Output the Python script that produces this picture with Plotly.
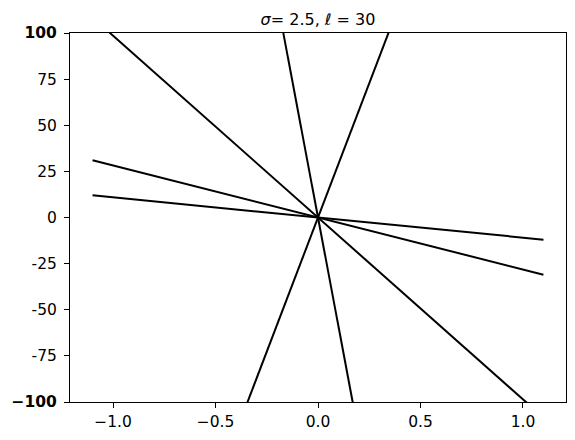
import plotly.graph_objects as go

# Each line runs from x=-1.1 to x=1.1 through the origin
x_ends = [-1.1, 1.1]
y_left = [12.0, 31.0, 108.4, 650.0, -320.0]
y_right = [-12.0, -31.0, -108.4, -650.0, 320.0]

y_tickvals = [100, 75, 50, 25, 0, -25, -50, -75, -100]
y_ticktext = ["<b>100</b>", "75", "50", "25", "0", "-25", "-50", "-75", "<b>\u2212100</b>"]
x_tickvals = [-1.0, -0.5, 0.0, 0.5, 1.0]
x_ticktext = ["\u22121.0", "\u22120.5", "0.0", "0.5", "1.0"]

fig = go.Figure()
for yl, yr in zip(y_left, y_right):
    fig.add_trace(go.Scatter(x=x_ends, y=[yl, yr], mode="lines",
                             line=dict(color="black", width=2), showlegend=False,
                             hoverinfo="skip"))

axis_common = dict(showgrid=False, zeroline=False, showline=True, mirror=True,
                   linecolor="black", linewidth=1, ticks="outside", ticklen=5,
                   tickwidth=1, tickcolor="black", automargin=False,
                   tickfont=dict(family="DejaVu Sans", size=15.5, color="black"))

fig.update_xaxes(range=[-1.21, 1.21], tickvals=x_tickvals, ticktext=x_ticktext, **axis_common)
fig.update_yaxes(range=[-100, 100], tickvals=y_tickvals, ticktext=y_ticktext,
                 ticklabelstandoff=4, **axis_common)

# page body has an 8px margin; figure sized to fit the 575x440 window
W, H = 567, 432
fig.update_layout(
    width=W, height=H,
    margin=dict(l=62, r=9, t=25, b=38),
    plot_bgcolor="white", paper_bgcolor="white",
    title=dict(text="<i>\u03c3</i>= 2.5, <i>\u2113</i> = 30", x=310 / W,
               xanchor="center", y=1 - 11 / H, yanchor="middle",
               font=dict(family="DejaVu Sans", size=16, color="black")),
)

fig.write_html("out.html")
